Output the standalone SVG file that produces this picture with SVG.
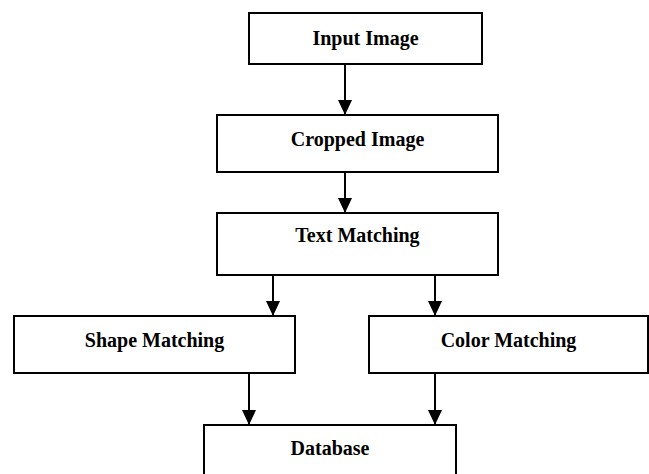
<svg xmlns="http://www.w3.org/2000/svg" width="649" height="474" viewBox="0 0 649 474">
  <style>
    .box { fill: #ffffff; stroke: #000000; stroke-width: 2; }
    .label { font-family: "Liberation Serif", "Times New Roman", serif; font-weight: bold; font-size: 20px; fill: #000000; text-anchor: middle; }
    .wire { stroke: #000000; stroke-width: 2; fill: none; marker-end: url(#head); }
  </style>
  <defs>
    <!-- filled triangular arrowhead, tip at the line end -->
    <marker id="head" markerUnits="userSpaceOnUse" markerWidth="16" markerHeight="14" refX="15" refY="7" orient="auto" viewBox="0 0 16 14">
      <path d="M0,0 L15,7 L0,14 Z" fill="#000000"/>
    </marker>
  </defs>
  <rect width="649" height="474" fill="#ffffff"/>

  <g id="input-image">
    <rect class="box" x="249" y="13" width="233" height="51"/>
    <text class="label" x="365.5" y="44.5">Input Image</text>
  </g>
  <g id="cropped-image">
    <rect class="box" x="217" y="115" width="281" height="57"/>
    <text class="label" x="357.5" y="146">Cropped Image</text>
  </g>
  <g id="text-matching">
    <rect class="box" x="217" y="213" width="281" height="62"/>
    <text class="label" x="357.5" y="242">Text Matching</text>
  </g>
  <g id="shape-matching">
    <rect class="box" x="14" y="316" width="281" height="57"/>
    <text class="label" x="154.5" y="347">Shape Matching</text>
  </g>
  <g id="color-matching">
    <rect class="box" x="369" y="316" width="279" height="57"/>
    <text class="label" x="508.5" y="347">Color Matching</text>
  </g>
  <g id="database">
    <rect class="box" x="204" y="425" width="252" height="60"/>
    <text class="label" x="330" y="455">Database</text>
  </g>

  <g id="connectors">
    <line class="wire" x1="345" y1="64" x2="345" y2="115"/>
    <line class="wire" x1="345" y1="172" x2="345" y2="213"/>
    <line class="wire" x1="273" y1="275" x2="273" y2="316"/>
    <line class="wire" x1="435" y1="275" x2="435" y2="316"/>
    <line class="wire" x1="249" y1="373" x2="249" y2="425"/>
    <line class="wire" x1="435" y1="373" x2="435" y2="425"/>
  </g>
</svg>
